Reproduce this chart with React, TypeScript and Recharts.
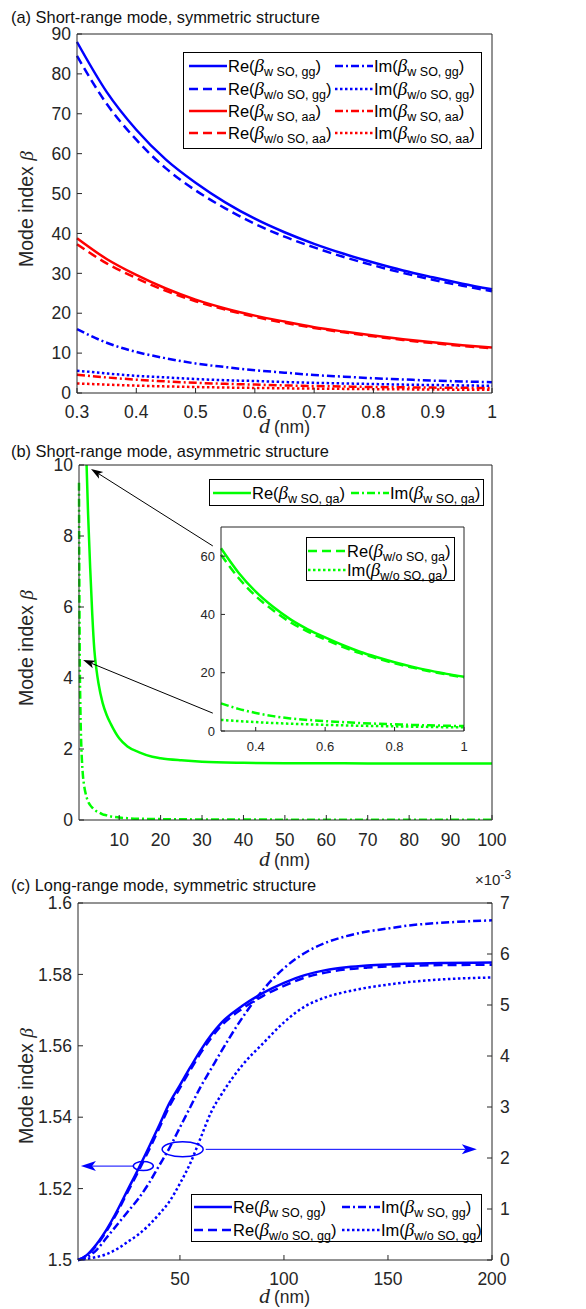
import React from 'react';
import { LineChart, Line, XAxis, YAxis, CartesianGrid, ReferenceLine, ReferenceDot } from 'recharts';

// (a) short-range mode, symmetric structure — d in nm
const aD = [0.3, 0.35, 0.4, 0.45, 0.5, 0.55, 0.6, 0.65, 0.7, 0.75, 0.8, 0.85, 0.9, 0.95, 1];
const aReWgg = [88, 75.5, 66, 58.5, 52.7, 47.8, 43.7, 40.3, 37.4, 34.9, 32.7, 30.7, 29.0, 27.4, 26.0];
const aReWogg = [84.5, 72.5, 63.5, 56.3, 50.8, 46.3, 42.4, 39.2, 36.5, 34.1, 32.0, 30.1, 28.4, 26.9, 25.5];
const aReWaa = [38.8, 33.6, 29.6, 26.2, 23.4, 21.2, 19.4, 17.9, 16.5, 15.4, 14.4, 13.5, 12.7, 12.0, 11.4];
const aReWoaa = [37.3, 32.5, 28.8, 25.6, 23.0, 20.9, 19.1, 17.6, 16.3, 15.2, 14.2, 13.3, 12.5, 11.8, 11.2];
const aImWgg = [16.0, 12.6, 10.3, 8.7, 7.4, 6.5, 5.7, 5.1, 4.5, 4.1, 3.7, 3.4, 3.1, 2.9, 2.7];
const aImWogg = [5.6, 4.9, 4.3, 3.9, 3.5, 3.2, 3.0, 2.75, 2.55, 2.4, 2.25, 2.1, 2.0, 1.9, 1.8];
const aImWaa = [4.6, 3.9, 3.35, 2.9, 2.55, 2.3, 2.1, 1.9, 1.75, 1.62, 1.5, 1.42, 1.35, 1.3, 1.25];
const aImWoaa = [2.4, 2.1, 1.85, 1.65, 1.5, 1.37, 1.27, 1.18, 1.1, 1.03, 0.97, 0.92, 0.87, 0.83, 0.8];
const aXTicks = [0.3, 0.4, 0.5, 0.6, 0.7, 0.8, 0.9, 1];
const aYTicks = [0, 10, 20, 30, 40, 50, 60, 70, 80, 90];

// (b) short-range mode, asymmetric structure
const bD = [0.3, 0.4, 0.5, 0.6, 0.7, 0.8, 0.9, 1, 1.25, 1.5, 2, 2.5, 3, 3.5, 4, 4.5, 5, 6, 7, 8, 10, 12, 15, 18, 20, 25, 30, 40, 50, 70, 100];
const bReW = [62.7, 47.8, 38.3, 32.1, 27.2, 23.6, 20.8, 18.6, 15.5, 13.3, 10.5, 8.6, 7.1, 5.8, 4.8, 4.25, 3.85, 3.3, 2.95, 2.7, 2.3, 2.07, 1.9, 1.78, 1.74, 1.68, 1.64, 1.61, 1.6, 1.595, 1.59];
const bImW = [9.5, 6.2, 4.3, 3.4, 2.75, 2.3, 1.95, 1.7, 1.25, 1.0, 0.7, 0.52, 0.42, 0.35, 0.3, 0.25, 0.22, 0.16, 0.13, 0.1, 0.07, 0.05, 0.035, 0.028, 0.025, 0.02, 0.015, 0.012, 0.01, 0.007, 0.005];
const bXTicks = [10, 20, 30, 40, 50, 60, 70, 80, 90, 100];
const bYTicks = [0, 2, 4, 6, 8, 10];

// (b) inset, 0.3–1 nm
const inD = [0.3, 0.35, 0.4, 0.45, 0.5, 0.55, 0.6, 0.65, 0.7, 0.75, 0.8, 0.85, 0.9, 0.95, 1];
const inReW = [62.7, 54.4, 47.8, 42.6, 38.3, 34.9, 32.1, 29.5, 27.2, 25.3, 23.6, 22.1, 20.8, 19.6, 18.6];
const inReWo = [60.5, 52.6, 46.3, 41.4, 37.3, 34.1, 31.4, 28.9, 26.7, 24.9, 23.2, 21.8, 20.5, 19.4, 18.4];
const inImW = [9.5, 7.6, 6.2, 5.1, 4.3, 3.8, 3.4, 3.05, 2.75, 2.5, 2.3, 2.1, 1.95, 1.8, 1.7];
const inImWo = [3.8, 3.4, 3.05, 2.75, 2.5, 2.3, 2.1, 1.95, 1.8, 1.7, 1.6, 1.5, 1.4, 1.3, 1.25];
const inXTicks = [0.4, 0.6, 0.8, 1];
const inTopTicks = [0.3, 0.4, 0.5, 0.6, 0.7, 0.8, 0.9, 1];
const inYTicks = [0, 20, 40, 60];
const inRightTicks = [0, 10, 20, 30, 40, 50, 60, 70];

// (c) long-range mode, symmetric structure (Im in units of 1e-3)
const cD = [1, 5, 10, 15, 20, 25, 30, 35, 40, 45, 50, 55, 60, 65, 70, 80, 90, 100, 110, 120, 130, 140, 150, 160, 175, 200];
const cReW = [1.5, 1.5013, 1.5045, 1.5088, 1.514, 1.5198, 1.5255, 1.5315, 1.5377, 1.544, 1.549, 1.554, 1.5588, 1.563, 1.5665, 1.5712, 1.5748, 1.5776, 1.5798, 1.5812, 1.582, 1.5825, 1.5828, 1.583, 1.5832, 1.5833];
const cReWo = [1.5, 1.5012, 1.5042, 1.5084, 1.5135, 1.5192, 1.5248, 1.5307, 1.5369, 1.5431, 1.5482, 1.5532, 1.558, 1.5622, 1.5657, 1.5704, 1.574, 1.5768, 1.5791, 1.5805, 1.5814, 1.5819, 1.5822, 1.5824, 1.5826, 1.5827];
const cImW = [0, 0.05, 0.2, 0.45, 0.7, 0.95, 1.2, 1.5, 1.85, 2.2, 2.6, 3.0, 3.4, 3.75, 4.1, 4.75, 5.3, 5.72, 6.02, 6.22, 6.35, 6.44, 6.5, 6.56, 6.61, 6.66];
const cImWo = [0, 0.02, 0.06, 0.12, 0.22, 0.36, 0.5, 0.68, 0.9, 1.15, 1.5, 1.9, 2.4, 2.9, 3.25, 3.82, 4.25, 4.66, 4.97, 5.15, 5.26, 5.34, 5.4, 5.45, 5.5, 5.54];
const cXTicks = [50, 100, 150, 200];
const cTopTicks = [20, 40, 60, 80, 100, 120, 140, 160, 180, 200];
const cYTicks = [1.5, 1.52, 1.54, 1.56, 1.58, 1.6];
const cRightTicks = [0, 1, 2, 3, 4, 5, 6, 7];

// annotations, in data coordinates
const bArrows = [
  { from: { x: 32.6, y: 7.72 }, to: { x: 3.2, y: 9.89 } },
  { from: { x: 32.6, y: 3.01 }, to: { x: 1.3, y: 4.51 } },
];
const cMarks = [
  { x: 32.4, y: 1.5263, rx: 10, ry: 4.5 },
  { x: 51.3, y: 1.531, rx: 20.5, ry: 7.5 },
];
const cArrows = [
  { from: { x: 27.6, y: 1.5263 }, to: { x: 2.4, y: 1.5263 } },
  { from: { x: 62.4, y: 1.531 }, to: { x: 192.7, y: 1.531 } },
];

const aData = aD.map((d, i) => ({
  d, reWgg: aReWgg[i], reWogg: aReWogg[i], reWaa: aReWaa[i], reWoaa: aReWoaa[i],
  imWgg: aImWgg[i], imWogg: aImWogg[i], imWaa: aImWaa[i], imWoaa: aImWoaa[i],
}));
const bData = bD.map((d, i) => ({ d, reW: bReW[i], imW: bImW[i] }));
const inData = inD.map((d, i) => ({ d, reW: inReW[i], reWo: inReWo[i], imW: inImW[i], imWo: inImWo[i] }));
const cData = cD.map((d, i) => ({ d, reW: cReW[i], reWo: cReWo[i], imW: cImW[i], imWo: cImWo[i] }));

const INK = '#262626';
const BLUE = '#0000ff';
const RED = '#ff0000';
const GREEN = '#00ff00';
const SANS = '"Liberation Sans", Arial, Helvetica, sans-serif';
const SERIF = '"Liberation Serif", "Times New Roman", serif';
const DASH = '9 5';
const DASHDOT = '8 3 2 3';
const DOT = '2.5 2.5';
const tickFont = { fill: INK, fontSize: 17.5, fontFamily: SANS };
const smallTick = { fill: INK, fontSize: 13, fontFamily: SANS };
const MID_X = 284.5;

const curve = (key: string, color: string, dash?: string, yAxisId: string | number = 0) => (
  <Line key={key} type="monotone" dataKey={key} stroke={color} strokeWidth={2.5} strokeDasharray={dash}
    dot={false} activeDot={false} isAnimationActive={false} yAxisId={yAxisId} />
);

const XTitle = ({ y }: { y: number }) => (
  <text x={MID_X} y={y} textAnchor="middle" fill={INK} fontFamily={SANS} fontSize={17.5}>
    <tspan fontFamily={SERIF} fontStyle="italic" fontSize={22}>d</tspan>
    <tspan dx={4}>(nm)</tspan>
  </text>
);

const YTitle = ({ cy }: { cy: number }) => (
  <text x={33} y={cy} transform={`rotate(-90 33 ${cy})`} textAnchor="middle" fill={INK} fontFamily={SANS} fontSize={19.5}>
    Mode index <tspan fontFamily={SERIF} fontStyle="italic">β</tspan>
  </text>
);

const arrowShape = (color: string, len: number, half: number) => (p: any) => {
  const { x1, y1, x2, y2 } = p;
  const a = Math.atan2(y2 - y1, x2 - x1);
  const c = Math.cos(a), s = Math.sin(a);
  const bx = x2 - len * c, by = y2 - len * s;
  const mx = x2 - len * 0.75 * c, my = y2 - len * 0.75 * s;
  return (
    <g>
      <line x1={x1} y1={y1} x2={mx} y2={my} stroke={color} strokeWidth={1} />
      <path d={`M${x2},${y2} L${bx - s * half},${by + c * half} L${mx},${my} L${bx + s * half},${by - c * half} Z`} fill={color} />
    </g>
  );
};

type Entry = { kind: string; sub: string; color: string; dash?: string; row: number; col: number };

const Swatch = ({ color, dash }: { color: string; dash?: string }) => (
  <svg width={38} height={10} style={{ display: 'block' }}>
    <line x1={0} y1={5} x2={38} y2={5} stroke={color} strokeWidth={2.5} strokeDasharray={dash} />
  </svg>
);

const LegendBox = ({ left, top, width, height, rowY, colX, entries }: {
  left: number; top: number; width: number; height: number; rowY: number[]; colX: number[]; entries: Entry[];
}) => (
  <div style={{ position: 'absolute', left, top, width, height, boxSizing: 'border-box', border: '1px solid #000', background: '#fff' }}>
    {entries.map((e, i) => (
      <div key={i} style={{ position: 'absolute', left: colX[e.col], top: rowY[e.row] - 11, height: 22, display: 'flex', alignItems: 'center', whiteSpace: 'nowrap' }}>
        <Swatch color={e.color} dash={e.dash} />
        <span style={{ fontFamily: SANS, fontSize: 16.5, color: '#000', marginLeft: 1 }}>
          {e.kind}(<span style={{ fontFamily: SERIF, fontStyle: 'italic', fontSize: 19 }}>β</span>
          <span style={{ fontSize: 12.5, position: 'relative', top: 4 }}>{e.sub}</span>)
        </span>
      </div>
    ))}
  </div>
);

const Title = ({ top, text }: { top: number; text: string }) => (
  <div style={{ position: 'absolute', left: 11, top, fontFamily: SANS, fontSize: 16.4, color: '#111', lineHeight: '18px', whiteSpace: 'nowrap' }}>{text}</div>
);

const abs = (left: number, top: number): React.CSSProperties => ({ position: 'absolute', left, top });

export default function App() {
  return (
    <div style={{ position: 'absolute', left: 0, top: 0, width: 586, height: 1309, background: '#fff', overflow: 'hidden' }}>
      {/* (a) */}
      <div style={abs(0, 0)}>
        <LineChart width={586} height={440} data={aData} margin={{ top: 33, right: 93, bottom: 0, left: 0 }}>
          <XAxis dataKey="d" type="number" domain={[0.3, 1]} ticks={aXTicks} interval={0} height={47} stroke={INK}
            tickSize={-5} tickMargin={18} tick={tickFont} label={{ content: () => <XTitle y={433} /> }} />
          <XAxis xAxisId="top" orientation="top" dataKey="d" type="number" domain={[0.3, 1]} ticks={aXTicks} interval={0}
            height={1} stroke={INK} tickSize={-5} tick={false} />
          <YAxis type="number" domain={[0, 90]} ticks={aYTicks} interval={0} width={77} stroke={INK}
            tickSize={-5} tickMargin={11} tick={tickFont} label={{ content: () => <YTitle cy={209} /> }} />
          <YAxis yAxisId="right" orientation="right" type="number" domain={[0, 90]} ticks={aYTicks} interval={0}
            width={1} stroke={INK} tickSize={-5} tick={false} />
          {curve('imWoaa', RED, DOT)}
          {curve('imWaa', RED, DASHDOT)}
          {curve('imWogg', BLUE, DOT)}
          {curve('imWgg', BLUE, DASHDOT)}
          {curve('reWoaa', RED, DASH)}
          {curve('reWaa', RED)}
          {curve('reWogg', BLUE, DASH)}
          {curve('reWgg', BLUE)}
        </LineChart>
      </div>

      {/* (b) */}
      <div style={abs(0, 440)}>
        <LineChart width={586} height={440} data={bData} margin={{ top: 24, right: 93, bottom: 0, left: 0 }}>
          <XAxis dataKey="d" type="number" domain={[0.3, 100]} ticks={bXTicks} interval={0} height={60} stroke={INK}
            tickSize={-5} tickMargin={19} tick={tickFont} label={{ content: () => <XTitle y={426} /> }} />
          <XAxis xAxisId="top" orientation="top" dataKey="d" type="number" domain={[0.3, 100]} ticks={bXTicks} interval={0}
            height={1} stroke={INK} tickSize={-5} tick={false} />
          <YAxis type="number" domain={[0, 10]} ticks={bYTicks} interval={0} width={79} stroke={INK} allowDataOverflow
            tickSize={-5} tickMargin={11} tick={tickFont} label={{ content: () => <YTitle cy={208} /> }} />
          <YAxis yAxisId="right" orientation="right" type="number" domain={[0, 10]} ticks={bYTicks} interval={0}
            width={1} stroke={INK} tickSize={-5} tick={false} />
          {curve('imW', GREEN, DASHDOT)}
          {curve('reW', GREEN)}
          {bArrows.map((a, i) => (
            <ReferenceLine key={i} segment={[a.from, a.to]} ifOverflow="visible" shape={arrowShape('#000', 12, 4)} />
          ))}
        </LineChart>
      </div>

      {/* (b) inset */}
      <div style={abs(191, 522)}>
        <LineChart width={278} height={240} data={inData} margin={{ top: 4, right: 4, bottom: 0, left: 0 }}>
          <CartesianGrid fill="#fff" stroke="none" />
          <XAxis dataKey="d" type="number" domain={[0.3, 1]} ticks={inXTicks} interval={0} height={31} stroke={INK}
            tickSize={-4} tickMargin={15} tick={smallTick} />
          <XAxis xAxisId="top" orientation="top" dataKey="d" type="number" domain={[0.3, 1]} ticks={inTopTicks} interval={0}
            height={1} stroke={INK} tickSize={-4} tick={false} />
          <YAxis type="number" domain={[0, 70]} ticks={inYTicks} interval={0} width={30} stroke={INK}
            tickSize={-4} tickMargin={10} tick={smallTick} />
          <YAxis yAxisId="right" orientation="right" type="number" domain={[0, 70]} ticks={inRightTicks} interval={0}
            width={1} stroke={INK} tickSize={-4} tick={false} />
          {curve('imWo', GREEN, DOT)}
          {curve('imW', GREEN, DASHDOT)}
          {curve('reWo', GREEN, DASH)}
          {curve('reW', GREEN)}
        </LineChart>
      </div>

      {/* (c) */}
      <div style={abs(0, 860)}>
        <LineChart width={586} height={449} data={cData} margin={{ top: 42, right: 60, bottom: 0, left: 0 }}>
          <XAxis dataKey="d" type="number" domain={[1, 200]} ticks={cXTicks} interval={0} height={49} stroke={INK}
            tickSize={-5} tickMargin={18} tick={tickFont} label={{ content: () => <XTitle y={443} /> }} />
          <XAxis xAxisId="top" orientation="top" dataKey="d" type="number" domain={[1, 200]} ticks={cTopTicks} interval={0}
            height={1} stroke={INK} tickSize={-5} tick={false} />
          <YAxis type="number" domain={[1.5, 1.6]} ticks={cYTicks} interval={0} width={78} stroke={INK}
            tickSize={-5} tickMargin={11} tick={tickFont} label={{ content: () => <YTitle cy={226} /> }} />
          <YAxis yAxisId="right" orientation="right" type="number" domain={[0, 7]} ticks={cRightTicks} interval={0}
            width={34} stroke={INK} tickSize={-5} tickMargin={13} tick={tickFont} />
          {curve('imWo', BLUE, DOT, 'right')}
          {curve('imW', BLUE, DASHDOT, 'right')}
          {curve('reWo', BLUE, DASH)}
          {curve('reW', BLUE)}
          {cMarks.map((m, i) => (
            <ReferenceDot key={i} x={m.x} y={m.y} ifOverflow="visible"
              shape={(p: any) => <ellipse cx={p.cx} cy={p.cy} rx={m.rx} ry={m.ry} fill="none" stroke={BLUE} strokeWidth={1.5} />} />
          ))}
          {cArrows.map((a, i) => (
            <ReferenceLine key={i} segment={[a.from, a.to]} ifOverflow="visible" shape={arrowShape(BLUE, 15, 5)} />
          ))}
        </LineChart>
      </div>

      <Title top={8} text="(a) Short-range mode, symmetric structure" />
      <Title top={442} text="(b) Short-range mode, asymmetric structure" />
      <Title top={876} text="(c) Long-range mode, symmetric structure" />
      <div style={{ position: 'absolute', left: 475, top: 871, fontFamily: SANS, fontSize: 15, color: INK, whiteSpace: 'nowrap' }}>
        ×10<span style={{ fontSize: 12, position: 'relative', top: -6 }}>-3</span>
      </div>

      <LegendBox left={183} top={52} width={299} height={97} rowY={[13, 35.5, 57.5, 79.5]} colX={[5, 151]} entries={[
        { kind: 'Re', sub: 'w SO, gg', color: BLUE, row: 0, col: 0 },
        { kind: 'Im', sub: 'w SO, gg', color: BLUE, dash: DASHDOT, row: 0, col: 1 },
        { kind: 'Re', sub: 'w/o SO, gg', color: BLUE, dash: DASH, row: 1, col: 0 },
        { kind: 'Im', sub: 'w/o SO, gg', color: BLUE, dash: DOT, row: 1, col: 1 },
        { kind: 'Re', sub: 'w SO, aa', color: RED, row: 2, col: 0 },
        { kind: 'Im', sub: 'w SO, aa', color: RED, dash: DASHDOT, row: 2, col: 1 },
        { kind: 'Re', sub: 'w/o SO, aa', color: RED, dash: DASH, row: 3, col: 0 },
        { kind: 'Im', sub: 'w/o SO, aa', color: RED, dash: DOT, row: 3, col: 1 },
      ]} />
      <LegendBox left={209} top={479} width={275} height={27} rowY={[12.5]} colX={[3, 141]} entries={[
        { kind: 'Re', sub: 'w SO, ga', color: GREEN, row: 0, col: 0 },
        { kind: 'Im', sub: 'w SO, ga', color: GREEN, dash: DASHDOT, row: 0, col: 1 },
      ]} />
      <LegendBox left={306} top={537} width={149} height={44} rowY={[12.5, 31.5]} colX={[1]} entries={[
        { kind: 'Re', sub: 'w/o SO, ga', color: GREEN, dash: DASH, row: 0, col: 0 },
        { kind: 'Im', sub: 'w/o SO, ga', color: GREEN, dash: DOT, row: 1, col: 0 },
      ]} />
      <LegendBox left={191} top={1194} width={291} height={48} rowY={[11.5, 35]} colX={[2, 150]} entries={[
        { kind: 'Re', sub: 'w SO, gg', color: BLUE, row: 0, col: 0 },
        { kind: 'Im', sub: 'w SO, gg', color: BLUE, dash: DASHDOT, row: 0, col: 1 },
        { kind: 'Re', sub: 'w/o SO, gg', color: BLUE, dash: DASH, row: 1, col: 0 },
        { kind: 'Im', sub: 'w/o SO, gg', color: BLUE, dash: DOT, row: 1, col: 1 },
      ]} />
    </div>
  );
}
